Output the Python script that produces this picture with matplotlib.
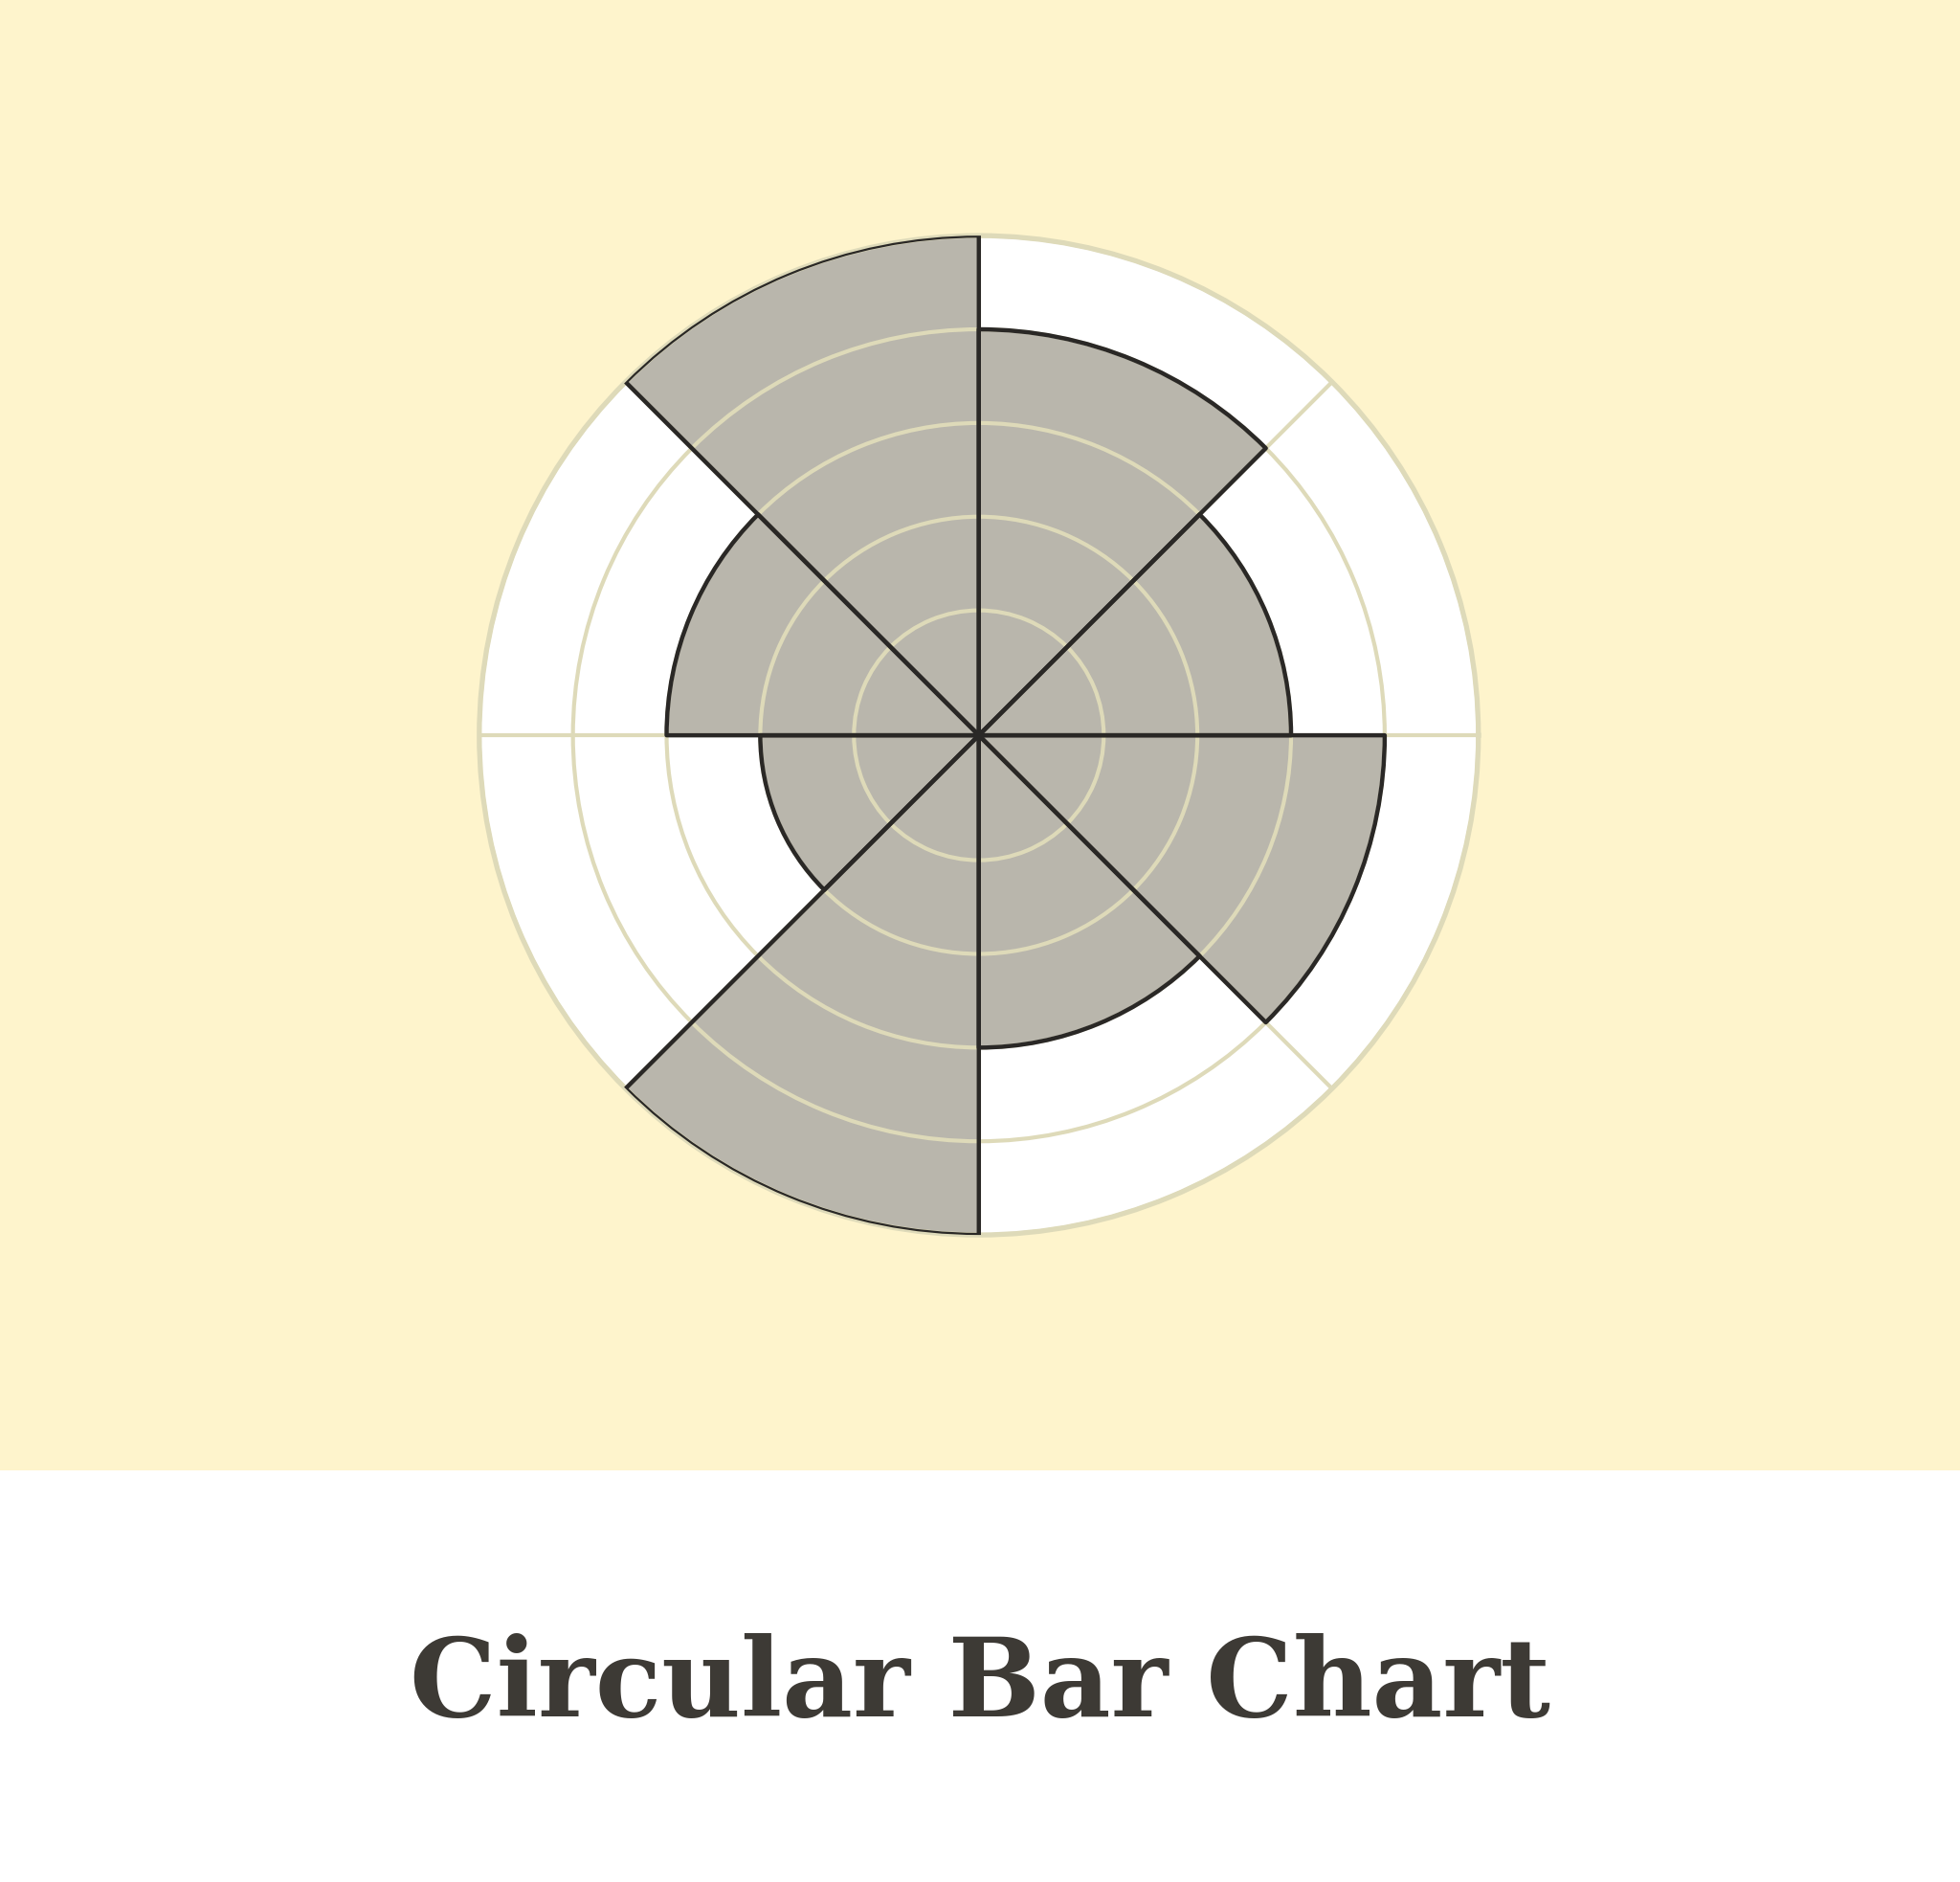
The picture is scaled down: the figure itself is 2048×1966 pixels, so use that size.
import numpy as np
import matplotlib
matplotlib.use("Agg")
import matplotlib.pyplot as plt
from matplotlib.patches import Rectangle

# sectors counter-clockwise from 3 o'clock, 45 degrees each
sector_start_deg = [0, 45, 90, 135, 180, 225, 270, 315]
values = [3, 4, 5, 3, 2, 5, 3, 4]
ring_levels = [1, 2, 3, 4, 5]
title = "Circular Bar Chart"

CREAM = "#FEF4CC"
GRID = "#DEDAB9"
FILL = "#B9B6AC"
EDGE = "#2A2826"
TEXT = "#3D3A35"

# the centre sits a third of a ring below zero, so ring 1 is not at the middle
R_MIN = -1 / 3

W, H = 2048, 1966
fig = plt.figure(figsize=(W / 100, H / 100), dpi=100)
fig.patch.set_facecolor("white")
fig.patches.append(Rectangle((0, 0.2187), 1, 1 - 0.2187, transform=fig.transFigure,
                             facecolor=CREAM, edgecolor="none", zorder=-1))

ax = fig.add_axes([0.2445, 0.3438, 0.5098, 0.5310], projection="polar")
ax.set_facecolor("white")

theta = np.deg2rad(sector_start_deg)
width = np.deg2rad(45)
heights = np.array(values) - R_MIN

# fill underneath the grid, outlines on top of it
ax.bar(theta, heights, bottom=R_MIN, width=width, align="edge", color=FILL,
       edgecolor="none", zorder=1)
ax.bar(theta, heights, bottom=R_MIN, width=width, align="edge", facecolor="none",
       edgecolor=EDGE, linewidth=3.2, joinstyle="round", zorder=3)

ax.set_ylim(R_MIN, 5)
ax.set_yticks(ring_levels)
ax.set_yticklabels([])
ax.set_xticks(np.deg2rad(sector_start_deg))
ax.set_xticklabels([])
ax.tick_params(length=0)
ax.grid(True, color=GRID, linewidth=3.0, zorder=2)
ax.spines["polar"].set_color(GRID)
ax.spines["polar"].set_linewidth(3.8)

fig.text(0.5, 0.088, title, ha="center", va="baseline", fontsize=82,
         family="DejaVu Serif", fontweight="bold", color=TEXT)

fig.savefig("out.png", dpi=100, facecolor=fig.get_facecolor())
